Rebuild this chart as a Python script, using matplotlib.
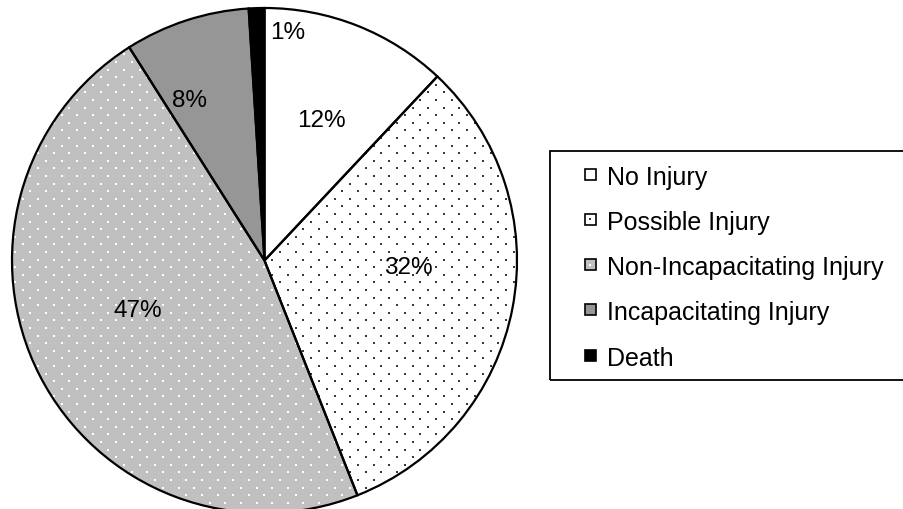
import numpy as np
import matplotlib.pyplot as plt
from matplotlib.patches import Rectangle

plt.rcParams['font.family'] = ['Liberation Sans', 'DejaVu Sans']

# Injury severity shares (percent)
categories = ['No Injury', 'Possible Injury', 'Non-Incapacitating Injury',
              'Incapacitating Injury', 'Death']
shares = [12, 32, 47, 8, 1]

face_colors = ['white', 'white', '#c0c0c0', '#969696', 'black']
dot_colors = [None, '#3a3a3a', 'white', None, None]

# label placement: radius (fraction of pie radius) and clockwise shift in degrees
label_radius = [0.60, 0.57, 0.54, 0.70, 0.91]
label_shift = [0.4, -8.2, 5.6, -7.0, 7.7]

W, H = 904, 510
fig = plt.figure(figsize=(W / 100, H / 100), dpi=100)

# pie centre and radius in pixels
cx, cy, R = 264.5, 510 - 261.5, 252.5
ax = fig.add_axes([(cx - R) / W, (cy - R) / H, 2 * R / W, 2 * R / H])

wedges, _ = ax.pie(shares, startangle=90, counterclock=False,
                   colors=face_colors, wedgeprops=dict(linewidth=0))
outline, _ = ax.pie(shares, startangle=90, counterclock=False,
                    wedgeprops=dict(fill=False, edgecolor='black',
                                    linewidth=1.6, zorder=3))

# dotted fill texture (staggered rows)
step_y = 7.6 / R
step_x = 15.6 / R
rows = np.arange(-1.02, 1.02, step_y)
xs, ys = [], []
for i, y in enumerate(rows):
    off = 0 if i % 2 == 0 else step_x / 2
    for x in np.arange(-1.02 + off, 1.02, step_x):
        xs.append(x)
        ys.append(y)
for w, dc in zip(wedges, dot_colors):
    if dc is None:
        continue
    sc = ax.scatter(xs, ys, s=2.2, marker='s', color=dc, linewidths=0, zorder=2)
    sc.set_clip_path(w)

for w, v, r, sh in zip(wedges, shares, label_radius, label_shift):
    mid = np.deg2rad((w.theta1 + w.theta2) / 2 - sh)
    ax.text(r * np.cos(mid), r * np.sin(mid), f'{v}%', ha='center', va='center',
            fontsize=17.5, zorder=4)

ax.set_xlim(-1, 1)
ax.set_ylim(-1, 1)
ax.set_aspect('equal')
ax.axis('off')

# legend box
box_top, box_bot, box_left = 152, 381, 550
fig.add_artist(Rectangle((box_left / W, 1 - box_bot / H), 1.0, (box_bot - box_top) / H,
                         transform=fig.transFigure, fill=False, edgecolor='black',
                         linewidth=1.3))
sq = 11
for i, (lab, fc, dc) in enumerate(zip(categories, face_colors, dot_colors)):
    yc = 175 + 45.3 * i
    fig.add_artist(Rectangle((584.5 / W, 1 - (yc + sq / 2) / H), sq / W, sq / H,
                             transform=fig.transFigure, facecolor=fc,
                             edgecolor='black', linewidth=1.2))
    if dc is not None:
        fig.add_artist(Rectangle(((584.5 + sq / 2 - 1) / W, 1 - (yc + 1) / H), 2 / W, 2 / H,
                                 transform=fig.transFigure, facecolor=dc,
                                 edgecolor='none'))
    fig.text(607 / W, 1 - yc / H, lab, ha='left', va='center_baseline', fontsize=18)

fig.savefig('out.png', dpi=100, facecolor='white')
